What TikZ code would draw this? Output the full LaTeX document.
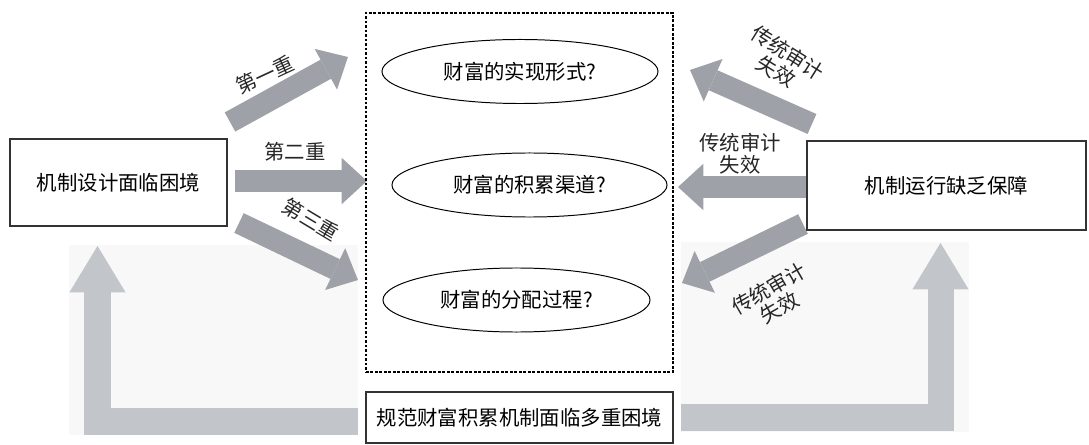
\documentclass[tikz,border=0pt]{standalone}
\usepackage{fontspec}
\newfontfamily\cjk{Noto Sans CJK SC}
\usetikzlibrary{positioning, arrows.meta, shapes.geometric}
\definecolor{arrowgray}{RGB}{158,162,168}
\definecolor{lightgray}{RGB}{194,197,202}
\definecolor{panelgray}{RGB}{248,248,248}

\begin{document}
\begin{tikzpicture}[
    x=0.025cm, y=-0.025cm,
    every node/.style={font=\cjk\fontsize{14.5}{15.6}\selectfont, inner sep=1pt},
    box/.style={draw=black!80, line width=0.9pt},
    oval/.style={draw, ellipse, line width=0.7pt, minimum height=1.6cm},
    frame/.style={draw, line width=2pt, dash pattern=on 2pt off 1.2pt},
    blockarrow/.style={draw=arrowgray, line width=15.5pt, -{Triangle[length=18pt,width=33pt,line width=0pt]}},
    bigarrow/.style={draw=lightgray, line width=18.5pt, line join=miter, -{Triangle[length=33pt,width=40pt,line width=0pt]}},
    lbl/.style={align=center, text=black!85}
  ]
  \useasboundingbox (0,0) rectangle (1089,445);
  \fill[panelgray] (69,245) rectangle (358,435);
  \fill[panelgray] (681,242) rectangle (969,432);

  \coordinate (l0) at (358,421.5);
  \coordinate (l1) at (97.5,246);
  \coordinate (r0) at (681,417.5);
  \coordinate (r1) at (940.5,243);
  \draw[bigarrow] (l0) -| (l1);
  \draw[bigarrow] (r0) -| (r1);

  \coordinate (t1) at (230,122);
  \coordinate (h1) at (348,57);
  \coordinate (t2) at (235,181);
  \coordinate (h2) at (367,181);
  \coordinate (t3) at (239,223);
  \coordinate (h3) at (358,280);
  \coordinate (t4) at (812,124);
  \coordinate (h4) at (690,70);
  \coordinate (t5) at (806,187);
  \coordinate (h5) at (678,187);
  \coordinate (t6) at (803,224);
  \coordinate (h6) at (682,283);
  \draw[blockarrow] (t1) -- (h1);
  \draw[blockarrow] (t2) -- (h2);
  \draw[blockarrow] (t3) -- (h3);
  \draw[blockarrow] (t4) -- (h4);
  \draw[blockarrow] (t5) -- (h5);
  \draw[blockarrow] (t6) -- (h6);

  \node[frame, minimum width=7.675cm, minimum height=8.975cm] (frame) at (519.5,192.5) {};
  \node[box, minimum width=5.425cm, minimum height=2.175cm] (design) at (118.5,182.5) {机制设计面临困境};
  \node[box, minimum width=6.975cm, minimum height=2.225cm] (operate) at (946.5,185.5) {机制运行缺乏保障};
  \node[box, minimum width=7.675cm, minimum height=1.275cm] (dilemma) at (519.5,417.5) {规范财富积累机制面临多重困境};

  \node[oval, minimum width=6.9cm] (form) at (520,71.5) {财富的实现形式?};
  \node[oval, minimum width=6.875cm] (channel) at (529.5,185) {财富的积累渠道?};
  \node[oval, minimum width=6.675cm] (share) at (516.5,300) {财富的分配过程?};

  \node[lbl, rotate=25] (first) at (265,75) {第一重};
  \node[lbl] (second) at (295,152) {第二重};
  \node[lbl, rotate=-31] (third) at (311,220) {第三重};
  \node[lbl, rotate=-32] (audit1) at (782,62) {传统审计\\失效};
  \node[lbl] (audit2) at (740,154) {传统审计\\失效};
  \node[lbl, rotate=30] (audit3) at (774,298) {传统审计\\失效};
\end{tikzpicture}
\end{document}
